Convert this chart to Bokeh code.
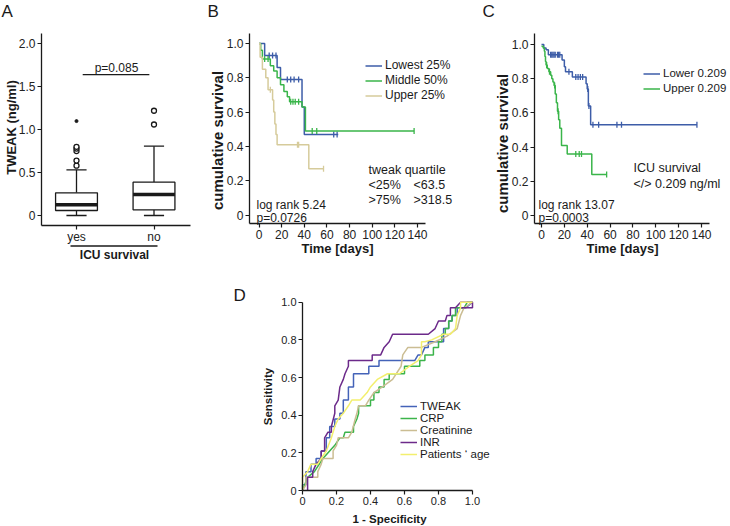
import numpy as np
from bokeh.plotting import figure
from bokeh.models import Range1d, Label, Legend, LegendItem, Spacer, PrintfTickFormatter
from bokeh.layouts import row, column
from bokeh.embed import file_html
from bokeh.resources import INLINE

FONT = "Liberation Sans"
INK = "#1a1a1a"

# ---------------- data ----------------
# A: TWEAK (ng/ml) by ICU survival, box-plot summaries
a_groups = ["yes", "no"]
a_whisker_low = [0.0, 0.0]
a_q1 = [0.058, 0.066]
a_median = [0.124, 0.245]
a_q3 = [0.264, 0.388]
a_whisker_high = [0.532, 0.808]
a_outliers_yes = [0.58, 0.64, 0.75, 0.78, 0.80]
a_extremes_yes = [1.10]
a_outliers_no = [1.06, 1.22]
a_bracket_level = 1.64
a_p_text = "p=0.085"

# B: Kaplan-Meier by tweak quartile (time in days, cumulative survival)
b_low_t = [0, 5, 16, 19, 38, 40]
b_low_s = [1.0, 0.93, 0.86, 0.79, 0.63, 0.47]
b_low_end = 70
b_low_cens = [9, 12, 15, 25, 28, 31, 35, 66, 69]
b_mid_t = [0, 1.5, 3, 10, 13, 16, 19, 22, 25, 27, 38, 41]
b_mid_s = [1.0, 0.96, 0.91, 0.87, 0.84, 0.80, 0.76, 0.72, 0.69, 0.66, 0.63, 0.49]
b_mid_end = 137
b_mid_cens = [5, 8, 28, 30, 32, 35, 47, 51, 137]
b_up_t = [0, 1, 3, 6, 8, 12, 13, 14, 15, 16, 44]
b_up_s = [1.0, 0.92, 0.85, 0.80, 0.73, 0.67, 0.60, 0.53, 0.47, 0.41, 0.27]
b_up_end = 57
b_up_cens = [10, 34, 35, 57]
b_labels = ["Lowest 25%", "Middle 50%", "Upper 25%"]

# C: Kaplan-Meier by TWEAK cut-off 0.209 ng/ml
c_low_t = [0, 2, 4, 6, 18, 20, 21, 27, 39, 40, 41, 43]
c_low_s = [1.0, 0.98, 0.97, 0.94, 0.91, 0.87, 0.84, 0.81, 0.77, 0.74, 0.64, 0.53]
c_low_end = 136
c_low_cens = [8, 9, 10, 11, 12, 14, 15, 16, 24, 30, 32, 34, 36, 40.5, 41.5, 45, 50, 66, 70, 136]
c_up_t = [0, 1.5, 2.5, 3, 3.5, 4, 5, 6.5, 8, 9, 10, 11, 12, 13, 14, 15, 16, 17.5, 22.5, 44]
c_up_s = [0.99, 0.98, 0.96, 0.93, 0.90, 0.88, 0.86, 0.84, 0.82, 0.80, 0.78, 0.76, 0.71, 0.66, 0.61,
          0.56, 0.51, 0.41, 0.36, 0.24]
c_up_end = 57
c_up_cens = [4.5, 7, 11.5, 14.5, 30, 33, 35, 57]
c_labels = ["Lower 0.209", "Upper 0.209"]

# D: ROC curves (1 - specificity, sensitivity)
roc_labels = ["TWEAK", "CRP", "Creatinine", "INR", "Patients \u2018 age"]
roc_tweak_fpr = [0, 0, 0.02, 0.02, 0.05, 0.05, 0.08, 0.08, 0.11, 0.11, 0.14, 0.14, 0.16, 0.16, 0.19, 0.19,
                 0.22, 0.22, 0.24, 0.24, 0.27, 0.27, 0.30, 0.30, 0.39, 0.39, 0.45, 0.45, 0.66, 0.68, 0.70,
                 0.72, 0.74, 0.74, 0.83, 0.83, 0.86, 0.86, 0.88, 0.88, 0.91, 0.91, 0.96, 1.0]
roc_tweak_tpr = [0, 0.03, 0.03, 0.10, 0.10, 0.14, 0.14, 0.17, 0.17, 0.21, 0.21, 0.28, 0.28, 0.34, 0.34, 0.38,
                 0.38, 0.41, 0.41, 0.48, 0.48, 0.55, 0.55, 0.62, 0.62, 0.66, 0.66, 0.69, 0.69, 0.72, 0.72,
                 0.76, 0.76, 0.79, 0.79, 0.86, 0.86, 0.90, 0.90, 0.93, 0.93, 0.97, 0.97, 1.0]
roc_crp_fpr = [0, 0.03, 0.07, 0.12, 0.19, 0.22, 0.24, 0.25, 0.30, 0.30, 0.32, 0.33, 0.33, 0.40, 0.40, 0.42,
               0.42, 0.45, 0.45, 0.48, 0.48, 0.51, 0.51, 0.60, 0.60, 0.69, 0.69, 0.72, 0.72, 0.77, 0.77,
               0.80, 0.80, 0.82, 0.82, 0.84, 0.84, 0.86, 0.86, 0.88, 0.88, 0.90, 0.90, 0.95, 0.97, 1.0]
roc_crp_tpr = [0, 0.07, 0.10, 0.17, 0.24, 0.28, 0.28, 0.31, 0.31, 0.34, 0.38, 0.41, 0.45, 0.45, 0.48, 0.48,
               0.52, 0.52, 0.55, 0.55, 0.59, 0.59, 0.62, 0.62, 0.66, 0.66, 0.69, 0.69, 0.72, 0.72, 0.76,
               0.76, 0.79, 0.79, 0.83, 0.83, 0.86, 0.86, 0.90, 0.90, 0.93, 0.93, 0.97, 0.97, 1.0, 1.0]
roc_crea_fpr = [0, 0.02, 0.02, 0.09, 0.09, 0.11, 0.12, 0.18, 0.18, 0.20, 0.21, 0.27, 0.29, 0.31, 0.32, 0.33,
                0.37, 0.39, 0.42, 0.47, 0.53, 0.58, 0.59, 0.62, 0.70, 0.78, 0.85, 0.91, 0.93, 0.95, 1.0]
roc_crea_tpr = [0, 0.03, 0.07, 0.07, 0.10, 0.14, 0.17, 0.17, 0.21, 0.24, 0.28, 0.28, 0.31, 0.38, 0.41, 0.45,
                0.45, 0.48, 0.52, 0.55, 0.59, 0.66, 0.72, 0.76, 0.76, 0.79, 0.82, 0.86, 0.93, 0.97, 1.0]
roc_inr_fpr = [0.03, 0.03, 0.06, 0.06, 0.08, 0.11, 0.11, 0.13, 0.13, 0.15, 0.17, 0.17, 0.19, 0.19, 0.21,
               0.22, 0.24, 0.25, 0.27, 0.27, 0.41, 0.41, 0.46, 0.48, 0.51, 0.53, 0.74, 0.78, 0.80, 0.84,
               0.85, 0.87, 0.87, 0.90, 0.93, 1.0, 1.0, 0.93]
roc_inr_tpr = [0, 0.07, 0.07, 0.10, 0.14, 0.17, 0.21, 0.21, 0.28, 0.31, 0.31, 0.34, 0.41, 0.45, 0.48,
               0.55, 0.59, 0.62, 0.66, 0.69, 0.69, 0.72, 0.72, 0.76, 0.79, 0.83, 0.83, 0.86, 0.90, 0.90,
               0.93, 0.93, 0.97, 0.97, 1.0, 1.0, 0.97, 0.97]
roc_age_fpr = [0, 0, 0.03, 0.05, 0.09, 0.11, 0.14, 0.17, 0.19, 0.21, 0.24, 0.27, 0.29, 0.34, 0.38, 0.40,
               0.44, 0.50, 0.57, 0.63, 0.68, 0.70, 0.70, 0.72, 0.76, 0.83, 0.87, 0.90, 0.91, 0.93, 0.93,
               0.97, 1.0]
roc_age_tpr = [0, 0.07, 0.10, 0.14, 0.14, 0.17, 0.21, 0.28, 0.34, 0.38, 0.41, 0.45, 0.48, 0.48, 0.52, 0.55,
               0.59, 0.62, 0.62, 0.66, 0.69, 0.72, 0.79, 0.79, 0.80, 0.83, 0.83, 0.86, 0.93, 0.97, 1.0,
               1.0, 1.0]


# ---------------- helpers ----------------
def make_panel(fig_box, xcal, ycal, axes_px, tick_font="12px", yfmt="%.1f"):
    """fig_box: page box of the figure; xcal/ycal: two (value, pixel) pairs;
    axes_px: (y-axis x, x-axis y, x-axis right end, y-axis top end) in page pixels."""
    fx, fy, fw, fh = fig_box
    (xv0, xp0), (xv1, xp1) = xcal
    (yv0, yp0), (yv1, yp1) = ycal
    sx = (xp1 - xp0) / (xv1 - xv0)
    sy = (yp1 - yp0) / (yv1 - yv0)

    def dx(px):
        return xv0 + (px - xp0) / sx

    def dy(py):
        return yv0 + (py - yp0) / sy

    p = figure(width=fw, height=fh, x_range=Range1d(dx(fx), dx(fx + fw)),
               y_range=Range1d(dy(fy + fh), dy(fy)), min_border=0, title=None,
               output_backend="svg", toolbar_location=None)
    p.outline_line_color = None
    p.grid.visible = False
    p.background_fill_color = "white"
    p.border_fill_color = "white"
    ax_x, ax_y, ax_right, ax_top = axes_px
    p.xaxis.fixed_location = dy(ax_y)
    p.xaxis.bounds = (dx(ax_x), dx(ax_right))
    p.yaxis.fixed_location = dx(ax_x)
    p.yaxis.bounds = (dy(ax_y), dy(ax_top))
    for ax in p.axis:
        ax.axis_line_color = INK
        ax.axis_line_width = 1.3
        ax.major_tick_line_color = INK
        ax.major_tick_line_width = 1.2
        ax.major_tick_in = 0
        ax.major_tick_out = 4
        ax.minor_tick_line_color = None
        ax.major_label_text_font = FONT
        ax.major_label_text_font_size = tick_font
        ax.major_label_text_color = "#222222"
        ax.major_label_standoff = 2
    if yfmt:
        p.yaxis.formatter = PrintfTickFormatter(format=yfmt)
        p.yaxis.major_label_overrides = {0: "0"}
    return p, dx, dy


def add_text(p, dx, dy, px, py, text, size="12px", bold=False, align="left",
             baseline="middle", angle=0.0):
    p.add_layout(Label(x=dx(px), y=dy(py), text=text, text_font=FONT, text_font_size=size,
                       text_font_style="bold" if bold else "normal", text_color=INK,
                       text_align=align, text_baseline=baseline, angle=angle))


def km_at(t, s, c):
    idx = np.searchsorted(np.array(t, dtype=float), np.array(c, dtype=float), side="right") - 1
    return list(np.array(s)[idx])


def km(p, t, s, end, cens, color):
    xs = list(t) + [end]
    ys = list(s) + [s[-1]]
    r = p.step(xs, ys, mode="after", line_color=color, line_width=1.5)
    p.scatter(cens, km_at(t, s, cens), marker="dash", angle=np.pi / 2, size=6,
              line_color=color, line_width=1.3)
    return r


def make_legend(items, fig_box, left_px, bottom_px, font="12px", row_h=15, glyph_w=17):
    fx, fy, fw, fh = fig_box
    leg = Legend(items=items, location=(left_px - fx, fy + fh - bottom_px))
    leg.border_line_color = None
    leg.background_fill_alpha = 0
    leg.padding = 0
    leg.margin = 0
    leg.spacing = 0
    leg.label_height = row_h
    leg.glyph_height = row_h
    leg.glyph_width = glyph_w
    leg.label_standoff = 3
    leg.label_text_font = FONT
    leg.label_text_font_size = font
    leg.label_text_color = INK
    return leg


# ---------------- panel A ----------------
box_a = (0, 0, 200, 262)
pa, ax_, ay_ = make_panel(box_a, ((1, 76), (2, 153.5)), ((0, 215), (2.0, 43.3)), (41, 225, 190, 33))
xa = [1, 2]
bw = 0.54
cw = 0.26
pa.segment(xa, a_q3, xa, a_whisker_high, line_color=INK, line_width=1.3)
pa.segment(xa, a_whisker_low, xa, a_q1, line_color=INK, line_width=1.3)
pa.segment([x - cw / 2 for x in xa], a_whisker_high, [x + cw / 2 for x in xa], a_whisker_high,
           line_color=INK, line_width=1.3)
pa.segment([x - cw / 2 for x in xa], a_whisker_low, [x + cw / 2 for x in xa], a_whisker_low,
           line_color=INK, line_width=1.3)
pa.quad(left=[x - bw / 2 for x in xa], right=[x + bw / 2 for x in xa], bottom=a_q1, top=a_q3,
        fill_color="white", line_color=INK, line_width=1.3)
pa.segment([x - bw / 2 for x in xa], a_median, [x + bw / 2 for x in xa], a_median,
           line_color=INK, line_width=3.5)
pa.scatter([1] * len(a_outliers_yes) + [2] * len(a_outliers_no), a_outliers_yes + a_outliers_no,
           marker="circle", size=5, fill_color="white", line_color=INK, line_width=1.3)
pa.scatter([1] * len(a_extremes_yes), a_extremes_yes, marker="circle", size=3,
           fill_color=INK, line_color=INK)
pa.segment([1.08], [a_bracket_level], [1.94], [a_bracket_level], line_color=INK, line_width=1.2)
pa.xaxis.ticker = xa
pa.xaxis.major_label_overrides = {1: "yes", 2: "no"}
pa.xaxis.major_label_standoff = 0
pa.yaxis.ticker = [0, 0.5, 1.0, 1.5, 2.0]
add_text(pa, ax_, ay_, 1, 1, "A", size="17px", baseline="top")
add_text(pa, ax_, ay_, 116, 67, a_p_text, align="center")
add_text(pa, ax_, ay_, 10.5, 127, "TWEAK (ng/ml)", size="13px", bold=True, align="center", angle=np.pi / 2)
# grouping rule above the axis title
pa.segment([ax_(70)], [ay_(245.5)], [ax_(157)], [ay_(245.5)], line_color=INK, line_width=1.3)
add_text(pa, ax_, ay_, 114, 254, "ICU survival", bold=True, align="center")

# ---------------- panel B ----------------
box_b = (200, 0, 270, 262)
pb, bx_, by_ = make_panel(box_b, ((0, 258.5), (140, 417)), ((0, 214.5), (1.0, 43)), (249, 223, 425, 33))
rb1 = km(pb, b_low_t, b_low_s, b_low_end, b_low_cens, "#3d5da8")
rb2 = km(pb, b_mid_t, b_mid_s, b_mid_end, b_mid_cens, "#3ab54a")
rb3 = km(pb, b_up_t, b_up_s, b_up_end, b_up_cens, "#d6cb9b")
pb.xaxis.ticker = [0, 20, 40, 60, 80, 100, 120, 140]
pb.yaxis.ticker = [0, 0.2, 0.4, 0.6, 0.8, 1.0]
pb.add_layout(make_legend([LegendItem(label=b_labels[0], renderers=[rb1]),
                           LegendItem(label=b_labels[1], renderers=[rb2]),
                           LegendItem(label=b_labels[2], renderers=[rb3])], box_b, 365, 102.5))
add_text(pb, bx_, by_, 207, 1, "B", size="17px", baseline="top")
add_text(pb, bx_, by_, 217, 140, "cumulative survival", size="15px", bold=True, align="center", angle=np.pi / 2)
add_text(pb, bx_, by_, 337, 248, "Time [days]", size="13px", bold=True, align="center")
add_text(pb, bx_, by_, 368, 169, "tweak quartile", size="12.5px")
add_text(pb, bx_, by_, 368, 184, "<25%", size="12.5px")
add_text(pb, bx_, by_, 413, 184, "<63.5", size="12.5px")
add_text(pb, bx_, by_, 368, 199, ">75%", size="12.5px")
add_text(pb, bx_, by_, 413, 199, ">318.5", size="12.5px")
add_text(pb, bx_, by_, 256, 204, "log rank 5.24", size="12px")
add_text(pb, bx_, by_, 256, 217, "p=0.0726", size="12px")

# ---------------- panel C ----------------
box_c = (470, 0, 260, 262)
pc, cx_, cy_ = make_panel(box_c, ((0, 541), (140, 701)), ((0, 215), (1.0, 44)), (534, 223, 709, 33))
rc1 = km(pc, c_low_t, c_low_s, c_low_end, c_low_cens, "#3d5da8")
rc2 = km(pc, c_up_t, c_up_s, c_up_end, c_up_cens, "#3ab54a")
pc.xaxis.ticker = [0, 20, 40, 60, 80, 100, 120, 140]
pc.yaxis.ticker = [0, 0.2, 0.4, 0.6, 0.8, 1.0]
pc.add_layout(make_legend([LegendItem(label=c_labels[0], renderers=[rc1]),
                           LegendItem(label=c_labels[1], renderers=[rc2])], box_c, 643, 95.5,
                          font="11.5px"))
add_text(pc, cx_, cy_, 482, 1, "C", size="17px", baseline="top")
add_text(pc, cx_, cy_, 502, 143, "cumulative survival", size="15px", bold=True, align="center", angle=np.pi / 2)
add_text(pc, cx_, cy_, 622, 248, "Time [days]", size="13px", bold=True, align="center")
add_text(pc, cx_, cy_, 633, 167, "ICU survival", size="12.5px")
add_text(pc, cx_, cy_, 633, 183, "</> 0.209 ng/ml", size="12.5px")
add_text(pc, cx_, cy_, 538, 204.5, "log rank 13.07", size="12px")
add_text(pc, cx_, cy_, 538, 217.5, "p=0.0003", size="12px")

# ---------------- panel D ----------------
box_d = (225, 262, 320, 264)
pd_, dx_, dy_ = make_panel(box_d, ((0, 302), (1, 472)), ((0, 490), (1, 301.7)), (302, 490, 472, 301.7),
                           tick_font="11px")
roc_colors = ["#4463b8", "#3cb44b", "#cbbd93", "#6c2a8a", "#f3ef6e"]
roc_data = [(roc_tweak_fpr, roc_tweak_tpr), (roc_crp_fpr, roc_crp_tpr), (roc_crea_fpr, roc_crea_tpr),
            (roc_inr_fpr, roc_inr_tpr), (roc_age_fpr, roc_age_tpr)]
roc_r = []
for (fx_, ty_), col in zip(roc_data, roc_colors):
    roc_r.append(pd_.line(fx_, ty_, line_color=col, line_width=1.5))
pd_.xaxis.ticker = [0, 0.2, 0.4, 0.6, 0.8, 1.0]
pd_.yaxis.ticker = [0, 0.2, 0.4, 0.6, 0.8, 1.0]
pd_.xaxis.formatter = PrintfTickFormatter(format="%.1f")
pd_.xaxis.major_label_overrides = {0: "0"}
pd_.add_layout(make_legend([LegendItem(label=lab, renderers=[r]) for lab, r in zip(roc_labels, roc_r)],
                           box_d, 400, 460, font="11.5px", row_h=10))
add_text(pd_, dx_, dy_, 233, 285, "D", size="17px", baseline="top")
add_text(pd_, dx_, dy_, 267, 396, "Sensitivity", size="11.5px", bold=True, align="center", angle=np.pi / 2)
add_text(pd_, dx_, dy_, 389, 518, "1 - Specificity", size="11.5px", bold=True, align="center")

layout = column(row(pa, pb, pc), row(Spacer(width=225, height=264), pd_))
open("out.html", "w").write(file_html(layout, INLINE))
